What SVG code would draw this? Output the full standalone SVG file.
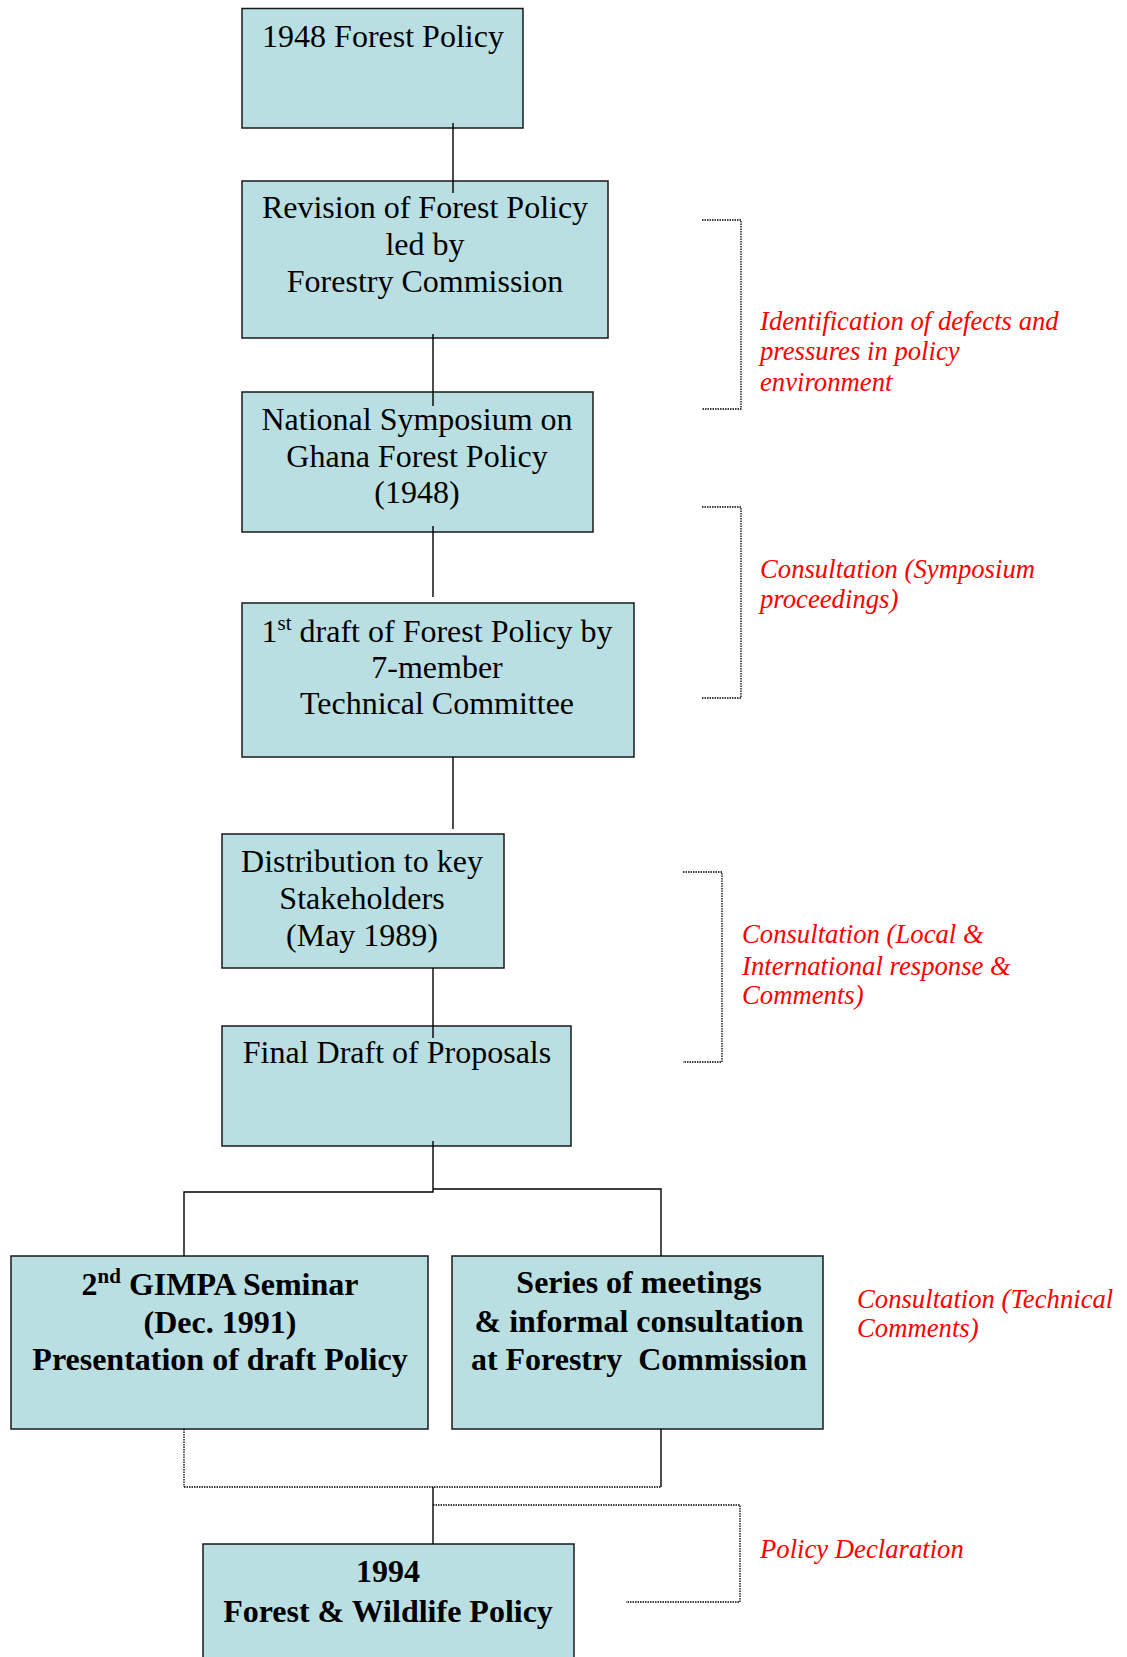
<svg xmlns="http://www.w3.org/2000/svg" width="1127" height="1657" viewBox="0 0 1127 1657">
<style>
.box{fill:#BADFE2;stroke:#1a1a1a;stroke-width:1.5}
.t{font-family:"Liberation Serif","Times New Roman",serif;font-size:32px;fill:#000;text-anchor:middle}
.b{font-weight:bold}
.r{font-family:"Liberation Serif","Times New Roman",serif;font-size:26.7px;font-style:italic;fill:#FF0000}
.c{fill:none;stroke:#000;stroke-width:1.4}
.d{fill:none;stroke:#000;stroke-width:1.3;stroke-dasharray:1.5 1}
</style>
<rect width="1127" height="1657" fill="#fff"/>
<g id="n1"><rect class="box" x="242" y="8.5" width="281" height="119.5"/>
<text class="t" x="383" y="47">1948 Forest Policy</text></g>
<g id="n2"><rect class="box" x="242" y="181" width="366" height="157"/>
<text class="t" x="425" y="218">Revision of Forest Policy</text>
<text class="t" x="425" y="255">led by</text>
<text class="t" x="425" y="292">Forestry Commission</text></g>
<g id="n3"><rect class="box" x="242" y="392" width="351" height="140"/>
<text class="t" x="417" y="430">National Symposium on</text>
<text class="t" x="417" y="467">Ghana Forest Policy</text>
<text class="t" x="417" y="503">(1948)</text></g>
<g id="n4"><rect class="box" x="242" y="603" width="392" height="154"/>
<text class="t" x="437" y="642">1<tspan font-size="21" dy="-12">st</tspan><tspan dy="12"> draft of Forest Policy by</tspan></text>
<text class="t" x="437" y="678">7-member</text>
<text class="t" x="437" y="714">Technical Committee</text></g>
<g id="n5"><rect class="box" x="222" y="834" width="282" height="134"/>
<text class="t" x="362" y="872">Distribution to key</text>
<text class="t" x="362" y="909">Stakeholders</text>
<text class="t" x="362" y="946">(May 1989)</text></g>
<g id="n6"><rect class="box" x="222" y="1026" width="349" height="120"/>
<text class="t" x="397" y="1063">Final Draft of Proposals</text></g>
<g id="n7"><rect class="box" x="11" y="1256" width="417" height="173"/>
<text class="t b" x="220" y="1295">2<tspan font-size="21" dy="-12">nd</tspan><tspan dy="12"> GIMPA Seminar</tspan></text>
<text class="t b" x="220" y="1333">(Dec. 1991)</text>
<text class="t b" x="220" y="1370">Presentation of draft Policy</text></g>
<g id="n8"><rect class="box" x="452" y="1256" width="371" height="173"/>
<text class="t b" x="639" y="1293">Series of meetings</text>
<text class="t b" x="639" y="1332">&amp; informal consultation</text>
<text class="t b" x="639" y="1370" xml:space="preserve">at Forestry  Commission</text></g>
<g id="n9"><rect class="box" x="203" y="1544" width="371" height="130"/>
<text class="t b" x="388" y="1582">1994</text>
<text class="t b" x="388" y="1622">Forest &amp; Wildlife Policy</text></g>
<g id="connectors">
<line class="c" x1="453" y1="123" x2="453" y2="193"/>
<line class="c" x1="433" y1="334" x2="433" y2="406"/>
<line class="c" x1="433" y1="526" x2="433" y2="597"/>
<line class="c" x1="453" y1="757" x2="453" y2="829"/>
<line class="c" x1="433" y1="968" x2="433" y2="1038"/>
<polyline class="c" points="433,1141 433,1192 184,1192 184,1256"/>
<polyline class="c" points="433,1189 661,1189 661,1256"/>
<line class="d" x1="184" y1="1429" x2="184" y2="1487"/>
<line class="d" x1="184" y1="1487" x2="661" y2="1487"/>
<line class="c" x1="661" y1="1429" x2="661" y2="1487"/>
<line class="c" x1="433" y1="1487" x2="433" y2="1544"/>
<polyline class="d" points="702,220 741,220 741,409 702,409"/>
<polyline class="d" points="702,507 741,507 741,698 702,698"/>
<polyline class="d" points="683,872 722,872 722,1062 683,1062"/>
<polyline class="d" points="433,1505 740,1505 740,1602 626,1602"/>
</g>
<g id="labels">
<text class="r" x="760" y="330">Identification of defects and</text>
<text class="r" x="760" y="360">pressures in policy</text>
<text class="r" x="760" y="391">environment</text>
<text class="r" x="760" y="578">Consultation (Symposium</text>
<text class="r" x="760" y="608">proceedings)</text>
<text class="r" x="742" y="943">Consultation (Local &amp;</text>
<text class="r" x="742" y="975">International response &amp;</text>
<text class="r" x="742" y="1004">Comments)</text>
<text class="r" x="857" y="1308">Consultation (Technical</text>
<text class="r" x="857" y="1337">Comments)</text>
<text class="r" x="760" y="1558">Policy Declaration</text>
</g>
</svg>
